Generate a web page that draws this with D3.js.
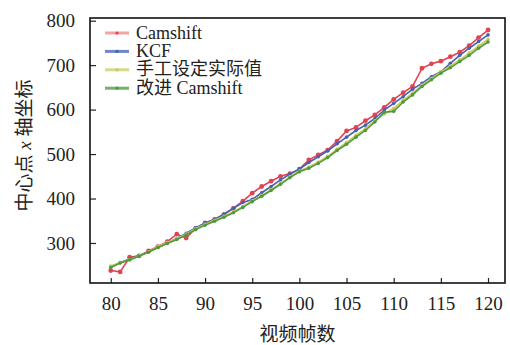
<!DOCTYPE html>
<html>
<head>
<meta charset="utf-8">
<script src="https://cdn.jsdelivr.net/npm/d3@7"></script>
<style>
  body { margin: 0; background: #fff; }
</style>
</head>
<body>
<div id="chart"></div>
<script>
// frame numbers (x axis)
const frames = [80, 81, 82, 83, 84, 85, 86, 87, 88, 89, 90, 91, 92, 93, 94, 95, 96, 97, 98, 99, 100,
  101, 102, 103, 104, 105, 106, 107, 108, 109, 110, 111, 112, 113, 114, 115, 116, 117, 118, 119, 120];

const camshift = [238, 235, 268, 271, 282, 292, 303, 320, 311, 333, 345, 353, 364, 378, 394, 412, 427, 439, 450, 456, 466,
  487, 498, 509, 529, 552, 560, 575, 588, 605, 623, 638, 652, 693, 703, 709, 719, 729, 744, 762, 779];
const kcf = [246, 256, 264, 272, 280, 290, 300, 310, 322, 334, 345, 353, 365, 378, 391, 398, 413, 427, 442, 455, 466,
  481, 494, 507, 523, 538, 553, 565, 580, 599, 614, 629, 646, 659, 674, 685, 704, 722, 738, 753, 768];
const manual = [248, 256, 263, 271, 280, 292, 301, 310, 320, 332, 342, 351, 360, 370, 382, 395, 407, 420, 434, 449, 462,
  471, 482, 495, 511, 526, 542, 557, 575, 590, 603, 621, 637, 655, 670, 685, 698, 712, 727, 743, 758];
const improved = [245, 255, 262, 270, 279, 290, 299, 308, 318, 330, 340, 349, 358, 368, 380, 393, 405, 418, 432, 447, 460,
  468, 479, 492, 508, 522, 538, 553, 572, 594, 596, 617, 633, 652, 667, 682, 694, 708, 722, 738, 752];

const xTicks = [80, 85, 90, 95, 100, 105, 110, 115, 120];
const yTicks = [300, 400, 500, 600, 700, 800];

const seriesNames = ['Camshift', 'KCF', '手工设定实际值', '改进 Camshift'];
const seriesValues = [camshift, kcf, manual, improved];
const lineColors = ['#e2434f', '#4461b8', '#c9c95a', '#4f9a3e'];
const legendColors = ['#f0a4a8', '#6f86c8', '#d8d890', '#74b066'];

const FONT = '"Liberation Serif", "Times New Roman", "Noto Sans CJK SC", serif';

const width = 510, height = 345;
const plot = { left: 90, right: 505, top: 18, bottom: 283 };

const svg = d3.select('#chart').append('svg')
  .attr('width', width)
  .attr('height', height)
  .style('font-family', FONT);

const x = d3.scaleLinear().domain([77.8, 121.8]).range([plot.left, plot.right]);
const y = d3.scaleLinear().domain([210, 806]).range([plot.bottom, plot.top]);

// axes with inward ticks
svg.append('g')
  .attr('transform', `translate(0,${plot.bottom})`)
  .call(d3.axisBottom(x).tickValues(xTicks).tickSizeInner(-5).tickSizeOuter(0).tickPadding(14))
  .call(g => g.attr('font-family', FONT).attr('font-size', 19))
  .call(g => g.select('.domain').remove())
  .call(g => g.selectAll('line').attr('stroke', '#222').attr('stroke-width', 1.2))
  .call(g => g.selectAll('text').attr('fill', '#222'));

svg.append('g')
  .attr('transform', `translate(${plot.left},0)`)
  .call(d3.axisLeft(y).tickValues(yTicks).tickSizeInner(-6).tickSizeOuter(0).tickPadding(15))
  .call(g => g.attr('font-family', FONT).attr('font-size', 19))
  .call(g => g.select('.domain').remove())
  .call(g => g.selectAll('line').attr('stroke', '#222').attr('stroke-width', 1.2))
  .call(g => g.selectAll('text').attr('fill', '#222'));

// frame
svg.append('rect')
  .attr('x', plot.left)
  .attr('y', plot.top)
  .attr('width', plot.right - plot.left)
  .attr('height', plot.bottom - plot.top)
  .attr('fill', 'none')
  .attr('stroke', '#111')
  .attr('stroke-width', 1.6);

// lines + markers
const line = d3.line()
  .x((d, i) => x(frames[i]))
  .y(d => y(d));

seriesValues.forEach((vals, k) => {
  svg.append('path')
    .datum(vals)
    .attr('fill', 'none')
    .attr('stroke', lineColors[k])
    .attr('stroke-width', 1.6)
    .attr('d', line);

  svg.selectAll('.dot' + k)
    .data(vals)
    .enter()
    .append('circle')
    .attr('class', 'dot' + k)
    .attr('cx', (d, i) => x(frames[i]))
    .attr('cy', d => y(d))
    .attr('r', k === 0 ? 2.4 : 1.8)
    .attr('fill', lineColors[k]);
});

// legend
const legend = svg.append('g').attr('transform', 'translate(105,33)');
seriesNames.forEach((name, k) => {
  const row = legend.append('g').attr('transform', `translate(0,${k * 18.4})`);
  row.append('line')
    .attr('x1', 0).attr('x2', 24)
    .attr('y1', 0).attr('y2', 0)
    .attr('stroke', legendColors[k])
    .attr('stroke-width', 3);
  row.append('circle')
    .attr('cx', 12).attr('cy', 0)
    .attr('r', 1.6)
    .attr('fill', lineColors[k]);
  row.append('text')
    .attr('x', 31)
    .attr('y', 5.5)
    .attr('font-size', 18)
    .attr('fill', '#222')
    .text(name);
});

// axis titles
svg.append('text')
  .attr('x', (plot.left + plot.right) / 2)
  .attr('y', 341)
  .attr('text-anchor', 'middle')
  .attr('font-size', 19)
  .attr('fill', '#222')
  .text('视频帧数');

const yLabel = svg.append('text')
  .attr('transform', `translate(31,${(plot.top + plot.bottom) / 2 - 5}) rotate(-90)`)
  .attr('text-anchor', 'middle')
  .attr('font-size', 19)
  .attr('fill', '#222');
yLabel.append('tspan').text('中心点 ');
yLabel.append('tspan').attr('font-style', 'italic').text('x');
yLabel.append('tspan').text(' 轴坐标');
</script>
</body>
</html>
